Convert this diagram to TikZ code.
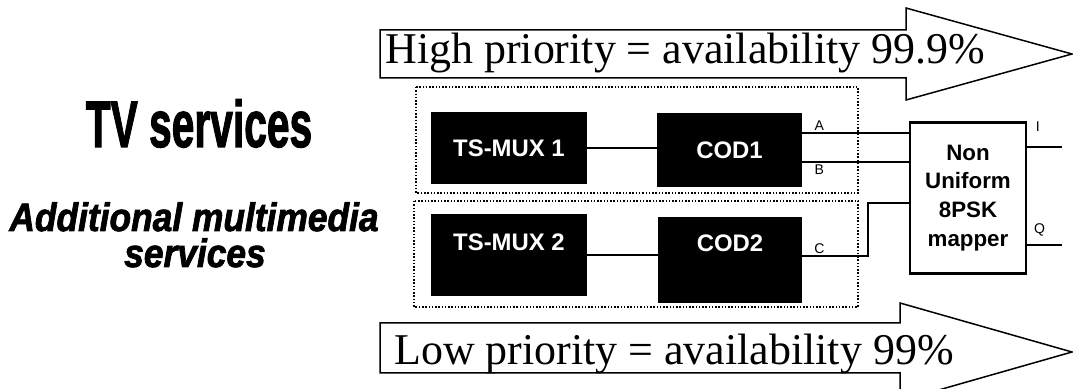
\documentclass[tikz,border=0pt]{standalone}
\usepackage{fontspec}
\usepackage{graphicx}
\setmainfont{Liberation Serif}
\setsansfont{Liberation Sans}
\newfontfamily\heavyfont{Liberation Sans}[BoldFeatures={FakeBold=2},BoldItalicFeatures={FakeBold=2}]
\usetikzlibrary{positioning}

\tikzset{
  blk/.style={fill=black, text=white, inner sep=0pt,
    font=\sffamily\bfseries\fontsize{13.6}{16}\selectfont},
  grp/.style={draw, densely dotted, line width=0.3mm},
  wire/.style={line width=0.28mm},
  pin/.style={inner sep=0.4mm, font=\sffamily\fontsize{8}{9}\selectfont},
  prio/.style={draw, line width=0.3mm, fill=white},
  priotext/.style={inner sep=0pt, font=\fontsize{25}{30}\selectfont},
  servtext/.style={inner sep=0pt, anchor=base, font=\heavyfont\bfseries\itshape\fontsize{22.6}{26}\selectfont},
}

\begin{document}
\begin{tikzpicture}[x=0.2mm, y=-0.2mm]
  \useasboundingbox (0,0) rectangle (1073,389);

  % priority arrows
  \draw[prio] (380,30) -- (906,30) -- (906,8) -- (1072,54) -- (906,100) -- (906,78) -- (380,78) -- cycle;
  \node[priotext, anchor=base west] (high) at (385,64) {High priority = availability 99.9\%};
  \draw[prio] (380,323) -- (900,323) -- (900,303) -- (1072,352) -- (900,401) -- (900,373) -- (380,373) -- cycle;
  \node[priotext, anchor=base west] (low) at (394,365) {Low priority = availability 99\%};

  % service names
  \node[inner sep=0pt, anchor=base, font=\heavyfont\bfseries\fontsize{37.4}{40}\selectfont] (tv) at (199,147)
    {\scalebox{0.62}[1]{TV services}};
  \node[servtext] (mm) at (194,231) {\scalebox{0.89}[1]{Additional multimedia}};
  \node[servtext] (mmserv) at (195,267) {\scalebox{0.89}[1]{services}};

  % the two chains
  \draw[grp] (416,87) rectangle (858,193);
  \draw[grp] (414,201) rectangle (858,307);
  \node[blk, minimum width=31.2mm, minimum height=14.4mm] (mux1) at (509,148) {TS-MUX 1};
  \node[blk, minimum width=29mm, minimum height=14.8mm] (cod1) at (729.5,150) {COD1};
  \node[blk, minimum width=31.2mm, minimum height=16.4mm, text height=3.4mm, text depth=5.2mm] (mux2) at (509,255) {TS-MUX 2};
  \node[blk, minimum width=28.8mm, minimum height=17.2mm, text height=3.4mm, text depth=6.8mm] (cod2) at (730,260) {COD2};

  \node[draw, line width=0.55mm, minimum width=23.2mm, minimum height=30.2mm, align=center,
    font=\sffamily\bfseries\fontsize{12.7}{16.4}\selectfont] (map) at (968,198) {Non\\Uniform\\8PSK\\mapper};

  \coordinate (cbend) at (868,203);
  \coordinate (iout) at (1062,147);
  \coordinate (qout) at (1062,245);

  \draw[wire] (mux1.east) -- (mux1.east -| cod1.west);
  \draw[wire] (mux2.east) -- (mux2.east -| cod2.west);
  \draw[wire] ([yshift=3.4mm]cod1.east) -- node[pin, above, pos=0.16]{A} ([yshift=3.4mm]cod1.east -| map.west);
  \draw[wire] ([yshift=-2.4mm]cod1.east) -- node[pin, below, pos=0.16]{B} ([yshift=-2.4mm]cod1.east -| map.west);
  \draw[wire] ([yshift=0.8mm]cod2.east) -| node[pin, above, pos=0.13]{C} (cbend) -- (cbend -| map.west);
  \draw[wire] (iout -| map.east) -- node[pin, above=2.6mm, pos=0.3]{I} (iout);
  \draw[wire] (qout -| map.east) -- node[pin, above=1.2mm, pos=0.35]{Q} (qout);
\end{tikzpicture}
\end{document}
